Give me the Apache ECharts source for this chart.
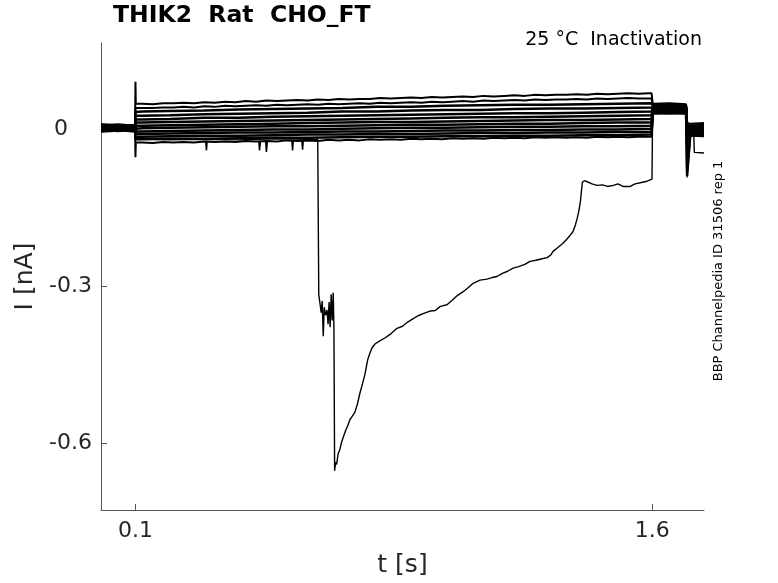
<!DOCTYPE html>
<html>
<head>
<meta charset="utf-8">
<script src="https://cdn.jsdelivr.net/npm/echarts@6/dist/echarts.min.js"></script>
<style>html,body{margin:0;padding:0;background:#fff}#c{width:778px;height:583px}</style>
</head>
<body>
<div id="c"></div>
<script>
// ---- data ----
var xTicks = [0.1, 1.6];
var yTicks = [-0.6, -0.3, 0];
var tGrid = [0, 0.05, 0.099, 0.1, 0.101, 0.12, 0.2, 0.3, 0.4, 0.5, 0.6, 0.7, 0.8, 0.9, 1.0, 1.1, 1.2, 1.3, 1.4, 1.5, 1.598, 1.601, 1.65, 1.698, 1.701, 1.71, 1.75];
var tDense = [0, 0.05, 0.099, 0.1, 0.101,
  0.12, 0.15, 0.18, 0.21, 0.24, 0.27, 0.30, 0.33, 0.36, 0.39,
  0.42, 0.45, 0.48, 0.51, 0.54, 0.57, 0.60, 0.63, 0.66, 0.69,
  0.72, 0.75, 0.78, 0.81, 0.84, 0.87, 0.90, 0.93, 0.96, 0.99,
  1.02, 1.05, 1.08, 1.11, 1.14, 1.17, 1.20, 1.23, 1.26, 1.29,
  1.32, 1.35, 1.38, 1.41, 1.44, 1.47, 1.50, 1.53, 1.56, 1.59,
  1.598, 1.601, 1.65, 1.698, 1.701, 1.71, 1.75];
var sweep1 = [0.008, 0.010, 0.007, 0.091, 0.049,
  0.049,0.048,0.050,0.050,0.051,0.050,0.052,0.051,0.053,0.052,
  0.054,0.053,0.055,0.054,0.055,0.056,0.055,0.057,0.056,0.058,
  0.057,0.058,0.058,0.060,0.059,0.060,0.061,0.060,0.062,0.061,
  0.062,0.063,0.062,0.064,0.063,0.064,0.065,0.064,0.066,0.065,
  0.066,0.066,0.067,0.066,0.068,0.067,0.068,0.069,0.068,0.069,
  0.069, 0.049, 0.050, 0.048, 0.012, 0.011, 0.012];
var sweep2 = [0.006, 0.004, 0.009, 0.041, 0.041,
  0.041,0.041,0.042,0.042,0.043,0.042,0.044,0.043,0.045,0.044,
  0.045,0.046,0.045,0.047,0.046,0.047,0.048,0.047,0.049,0.048,
  0.049,0.050,0.049,0.051,0.050,0.051,0.052,0.051,0.053,0.052,
  0.053,0.054,0.053,0.055,0.054,0.055,0.056,0.055,0.057,0.056,
  0.057,0.057,0.058,0.057,0.059,0.058,0.059,0.060,0.059,0.059,
  0.059, 0.047, 0.048, 0.046, 0.009, 0.008, 0.009];
var sweep3  = [-0.002,0.001,-0.003, 0.033, 0.033,0.034, 0.035,0.036,0.038,0.039,0.040,0.041,0.043,0.043,0.045,0.046,0.047,0.047,0.048,0.049, 0.050, 0.045,0.046,0.044, 0.006,0.007,0.006];
var sweep4  = [0.004,0.002,0.001, 0.026, 0.026,0.026, 0.027,0.029,0.030,0.031,0.032,0.034,0.034,0.036,0.037,0.037,0.039,0.040,0.040,0.041, 0.042, 0.043,0.044,0.043, 0.004,0.003,0.004];
var sweep5  = [0.010,0.007,0.008, 0.019, 0.019,0.019, 0.020,0.022,0.022,0.024,0.025,0.026,0.027,0.028,0.029,0.030,0.031,0.031,0.032,0.033, 0.034, 0.042,0.041,0.042, 0.002,0.001,0.002];
var sweep6  = [-0.004,-0.002,-0.001, 0.013, 0.013,0.013, 0.014,0.015,0.016,0.017,0.018,0.019,0.020,0.021,0.022,0.023,0.023,0.024,0.025,0.026, 0.027, 0.040,0.039,0.040, 0.000,-0.001,0.000];
var sweep7  = [0.003,0.005,0.003, 0.007, 0.007,0.007, 0.008,0.009,0.010,0.011,0.012,0.013,0.014,0.014,0.015,0.016,0.017,0.018,0.018,0.019, 0.020, 0.038,0.039,0.037, -0.002,-0.002,-0.003];
var sweep8  = [0.000,-0.003,0.001, 0.002, 0.002,0.002, 0.003,0.004,0.005,0.006,0.006,0.007,0.008,0.009,0.009,0.010,0.011,0.011,0.012,0.013, 0.013, 0.037,0.036,0.037, -0.004,-0.005,-0.004];
var sweep9  = [0.006,0.008,0.005, -0.004, -0.004,-0.004, -0.003,-0.002,-0.001,0.000,0.000,0.001,0.002,0.003,0.003,0.004,0.005,0.005,0.006,0.006, 0.007, 0.036,0.035,0.036, -0.006,-0.006,-0.007];
var sweep10 = [0.002,0.000,0.003, -0.009, -0.009,-0.009, -0.008,-0.007,-0.006,-0.006,-0.005,-0.004,-0.004,-0.003,-0.002,-0.002,-0.001,-0.001,0.000,0.000, 0.001, 0.035,0.034,0.035, -0.008,-0.008,-0.009];
var sweep11 = [-0.003,-0.001,-0.004, -0.014, -0.014,-0.014, -0.013,-0.012,-0.012,-0.011,-0.010,-0.010,-0.009,-0.009,-0.008,-0.007,-0.007,-0.006,-0.006,-0.005, -0.005, 0.033,0.032,0.033, -0.089,-0.010,-0.010];
var sweep12 = [0.005,0.003,0.006, -0.019, -0.019,-0.019, -0.018,-0.018,-0.017,-0.016,-0.016,-0.015,-0.014,-0.014,-0.013,-0.013,-0.012,-0.012,-0.011,-0.011, -0.010, 0.032,0.031,0.032, -0.078,-0.011,-0.012];
var sweep13 = [0.001, 0.002, -0.001, -0.053, -0.025,
  -0.025,-0.026,-0.024,-0.025,-0.024,-0.025,-0.023,-0.024,-0.023,-0.024,
  -0.022,-0.023,-0.022,-0.023,-0.021,-0.022,-0.021,-0.022,-0.020,-0.021,
  -0.020,-0.021,-0.019,-0.020,-0.019,-0.020,-0.018,-0.019,-0.018,-0.019,
  -0.017,-0.018,-0.017,-0.018,-0.016,-0.017,-0.016,-0.017,-0.015,-0.016,
  -0.015,-0.016,-0.015,-0.016,-0.014,-0.015,-0.014,-0.015,-0.014,-0.014,
  -0.014, 0.030, 0.031, 0.030, -0.012, -0.012, -0.013];
var denseSweeps = [sweep1, sweep2, sweep13];
var gridSweeps = [sweep3, sweep4, sweep5, sweep6, sweep7, sweep8, sweep9, sweep10, sweep11, sweep12];

var glitchT = [0.304, 0.306, 0.308, '-', 0.458, 0.460, 0.463, '-', 0.478, 0.480, 0.483, '-', 0.554, 0.556, 0.558, '-', 0.583, 0.585, 0.587];
var glitchI = [-0.022, -0.040, -0.022, '-', -0.022, -0.040, -0.022, '-', -0.022, -0.043, -0.022, '-', -0.022, -0.040, -0.022, '-', -0.022, -0.039, -0.022];

var anomT = [0, 0.05, 0.099, 0.101, 0.2, 0.3, 0.4, 0.5, 0.6, 0.629, 0.632, 0.636, 0.639, 0.642, 0.645, 0.648, 0.652, 0.656, 0.659, 0.662, 0.665, 0.668, 0.671, 0.674, 0.676, 0.678, 0.681, 0.684, 0.688, 0.693, 0.698, 0.703, 0.710, 0.716, 0.722, 0.729, 0.737, 0.744, 0.751, 0.758, 0.766, 0.774, 0.780, 0.786, 0.795, 0.809, 0.825, 0.842, 0.859, 0.875, 0.890, 0.905, 0.920, 0.935, 0.955, 0.970, 0.985, 1.004, 1.020, 1.035, 1.051, 1.066, 1.080, 1.100, 1.120, 1.135, 1.149, 1.165, 1.180, 1.196, 1.212, 1.230, 1.245, 1.262, 1.280, 1.295, 1.305, 1.312, 1.325, 1.340, 1.353, 1.362, 1.370, 1.377, 1.382, 1.387, 1.391, 1.394, 1.397, 1.403, 1.411, 1.425, 1.440, 1.455, 1.470, 1.487, 1.500, 1.515, 1.536, 1.550, 1.565, 1.585, 1.599, 1.601, 1.65, 1.698, 1.701, 1.705, 1.720, 1.722, 1.75];
var anomI = [0.002, 0.001, 0.002, -0.018, -0.020, -0.019, -0.020, -0.018, -0.019, -0.019, -0.316, -0.335, -0.350, -0.328, -0.395, -0.340, -0.355, -0.345, -0.372, -0.330, -0.378, -0.315, -0.365, -0.312, -0.380, -0.652, -0.636, -0.640, -0.620, -0.612, -0.598, -0.588, -0.575, -0.566, -0.555, -0.548, -0.540, -0.525, -0.505, -0.488, -0.468, -0.440, -0.428, -0.418, -0.410, -0.404, -0.398, -0.390, -0.380, -0.376, -0.368, -0.362, -0.356, -0.352, -0.347, -0.346, -0.338, -0.335, -0.326, -0.317, -0.310, -0.302, -0.294, -0.288, -0.286, -0.283, -0.281, -0.275, -0.271, -0.265, -0.262, -0.258, -0.252, -0.250, -0.247, -0.245, -0.240, -0.233, -0.226, -0.218, -0.209, -0.202, -0.195, -0.182, -0.170, -0.155, -0.139, -0.120, -0.101, -0.098, -0.100, -0.104, -0.107, -0.106, -0.109, -0.107, -0.104, -0.109, -0.109, -0.104, -0.102, -0.099, -0.095, 0.040, 0.041, 0.040, -0.092, -0.005, -0.005, -0.044, -0.045];

// ---- chart ----
var FONT = "'DejaVu Sans', sans-serif";
function pairs(tArr, iArr) {
  return tArr.map(function (t, k) { return t === '-' ? ['-', '-'] : [t, iArr[k]]; });
}
function lineSeries(data, width) {
  return {
    type: 'line', data: data, showSymbol: false, symbol: 'none', connectNulls: false,
    lineStyle: { color: '#000', width: width }, silent: true, animation: false
  };
}
var series = [];
gridSweeps.forEach(function (s) { series.push(lineSeries(pairs(tGrid, s), 2.5)); });
denseSweeps.forEach(function (s) { series.push(lineSeries(pairs(tDense, s), 2)); });
series.push(lineSeries(pairs(glitchT, glitchI), 1.5));
series.push(lineSeries(pairs(anomT, anomI), 1.4));

var chart = echarts.init(document.getElementById('c'), null, { renderer: 'canvas' });
chart.setOption({
  backgroundColor: '#fff',
  animation: false,
  grid: { left: 101, right: 74, top: 43, bottom: 71, containLabel: false },
  xAxis: {
    type: 'value', min: 0, max: 1.75,
    axisLine: { onZero: false, lineStyle: { color: '#555', width: 1 } },
    axisTick: { inside: true, length: 6, customValues: xTicks, lineStyle: { color: '#555' } },
    axisLabel: { customValues: xTicks, fontSize: 22, color: '#262626', margin: 10, fontFamily: FONT },
    splitLine: { show: false },
    name: 't [s]', nameLocation: 'middle', nameGap: 43,
    nameTextStyle: { fontSize: 25, color: '#262626', fontFamily: FONT }
  },
  yAxis: {
    type: 'value', min: -0.727, max: 0.165,
    axisLine: { onZero: false, lineStyle: { color: '#555', width: 1 } },
    axisTick: { inside: true, length: 6, customValues: yTicks, lineStyle: { color: '#555' } },
    axisLabel: {
      customValues: yTicks, fontSize: 22, color: '#262626', margin: 9, fontFamily: FONT,
      formatter: function (v) { return v === 0 ? '{z|0}' : String(v); },
      rich: { z: { fontSize: 22, color: '#262626', fontFamily: FONT, padding: [0, 24, 0, 0] } }
    },
    splitLine: { show: false },
    name: 'I [nA]', nameLocation: 'middle', nameGap: 60,
    nameTextStyle: { fontSize: 25, color: '#262626', fontFamily: FONT }
  },
  graphic: [
    { type: 'text', left: 113, top: 4, silent: true,
      style: { text: 'THIK2  Rat  CHO_FT', font: 'bold 23.5px ' + FONT, fill: '#000' } },
    { type: 'text', x: 702, y: 40, silent: true,
      style: { text: '25 °C  Inactivation', font: '19px ' + FONT, fill: '#000', textAlign: 'right', textVerticalAlign: 'middle' } },
    { type: 'text', x: 719, y: 271, rotation: Math.PI / 2, silent: true,
      style: { text: 'BBP Channelpedia ID 31506 rep 1', font: '13px ' + FONT, fill: '#000', textAlign: 'center', textVerticalAlign: 'middle' } }
  ],
  series: series
});
</script>
</body>
</html>
